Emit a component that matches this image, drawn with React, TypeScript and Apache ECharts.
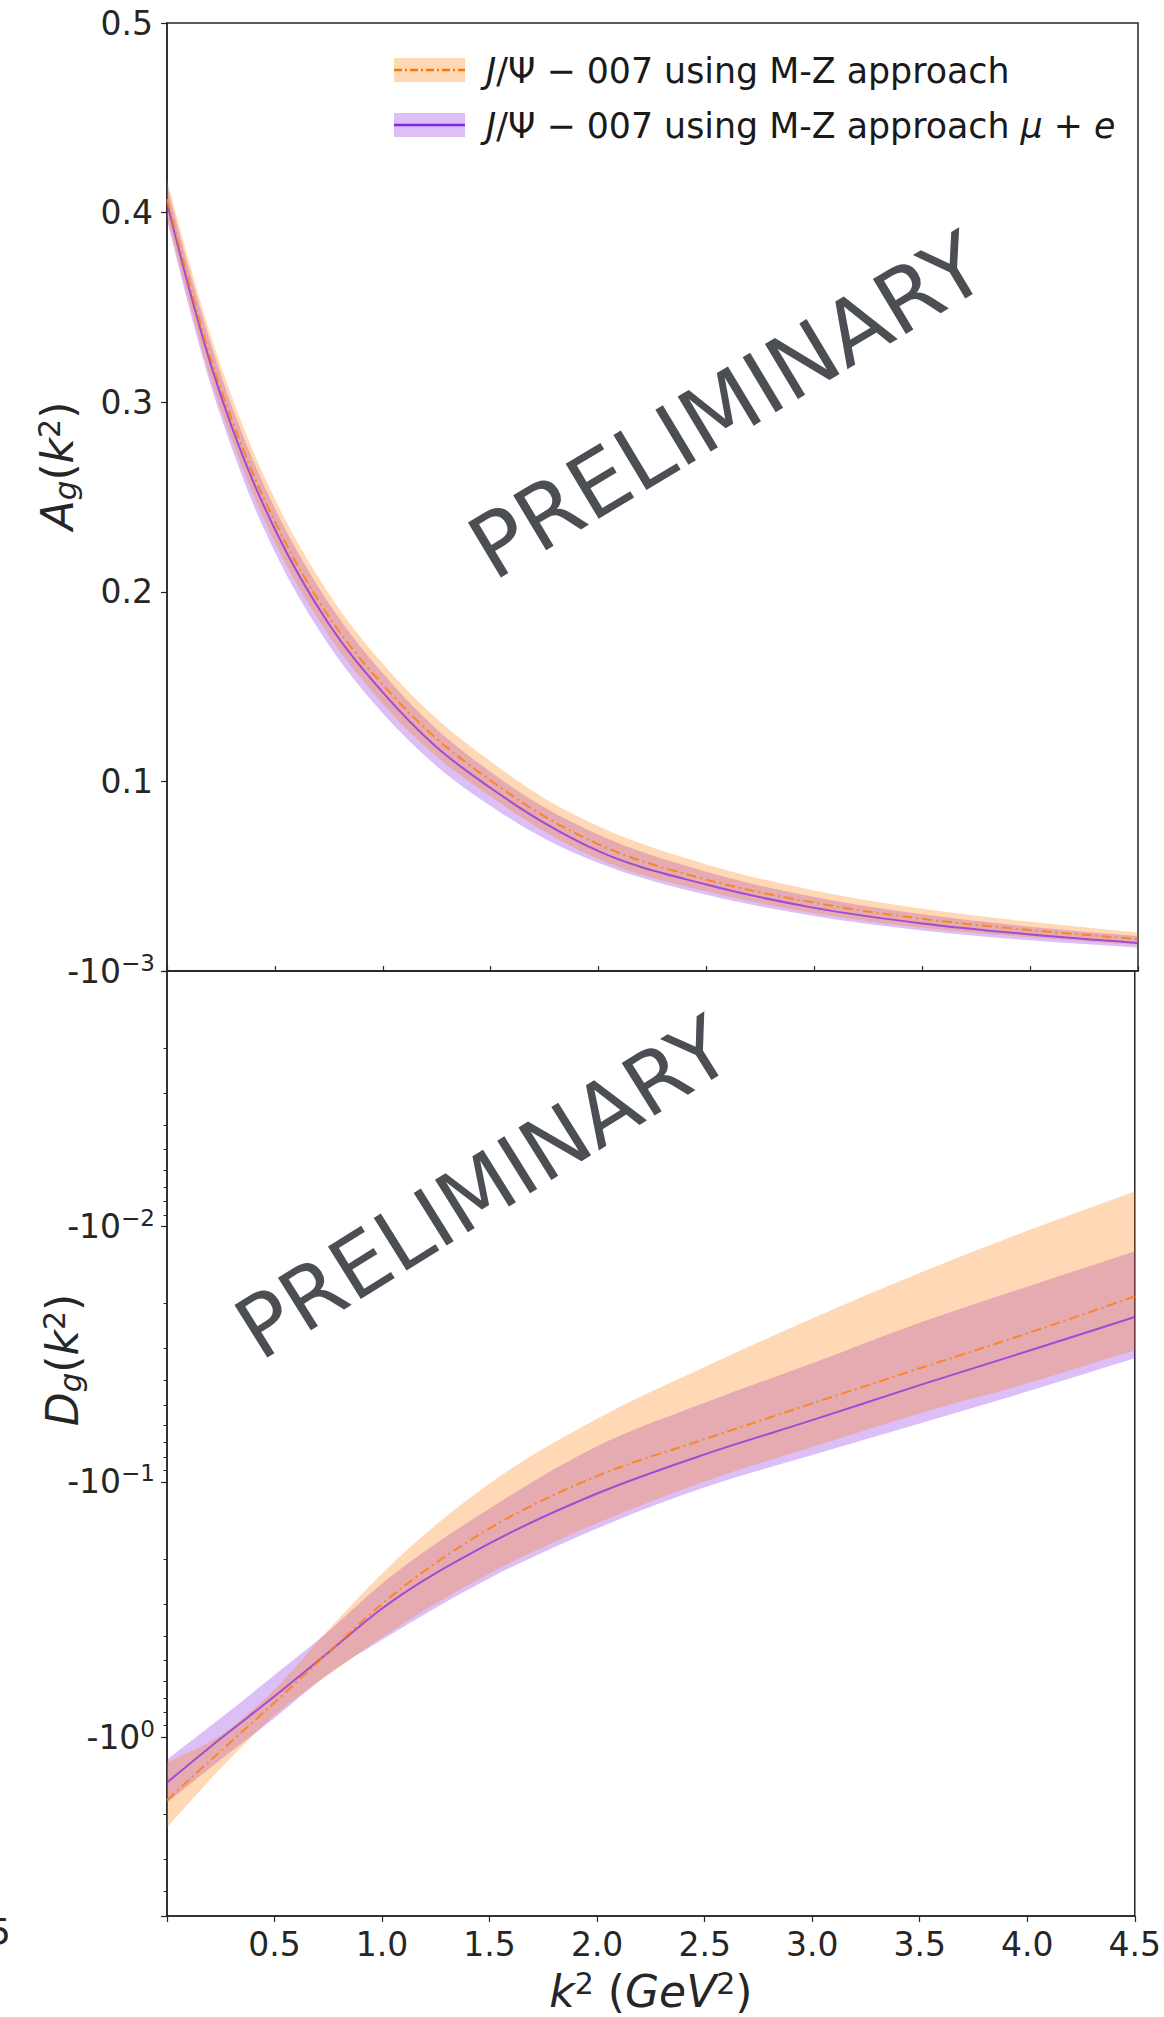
import React, { useEffect, useRef } from 'react';
import * as echarts from 'echarts';

// ---------- data ----------
// Top panel: A_g(k^2)
const kTop = [0, 0.1, 0.2, 0.3, 0.4, 0.5, 0.75, 1.0, 1.25, 1.5, 1.75, 2.0, 2.5, 3.0, 3.5, 4.0, 4.5];
const agOrange = [0.407, 0.364, 0.324, 0.291, 0.262, 0.237, 0.187, 0.151, 0.1225, 0.1005, 0.0815, 0.0668, 0.0482, 0.036, 0.0275, 0.0216, 0.0168];
const agOrangeUp = [0.417, 0.375, 0.336, 0.303, 0.274, 0.249, 0.199, 0.162, 0.133, 0.1105, 0.091, 0.0763, 0.0562, 0.0425, 0.0328, 0.026, 0.0203];
const agOrangeLo = [0.398, 0.354, 0.313, 0.28, 0.251, 0.226, 0.177, 0.141, 0.113, 0.092, 0.0735, 0.059, 0.042, 0.0305, 0.0228, 0.0178, 0.0137];
const agPurple = [0.405, 0.361, 0.321, 0.287, 0.258, 0.233, 0.183, 0.147, 0.118, 0.0965, 0.078, 0.0632, 0.0456, 0.0333, 0.0251, 0.0193, 0.0148];
const agPurpleUp = [0.414, 0.371, 0.332, 0.298, 0.269, 0.244, 0.194, 0.157, 0.1275, 0.105, 0.0862, 0.0719, 0.0524, 0.039, 0.0299, 0.0234, 0.0184];
const agPurpleLo = [0.396, 0.351, 0.31, 0.276, 0.246, 0.221, 0.172, 0.136, 0.108, 0.087, 0.0698, 0.057, 0.0402, 0.029, 0.0214, 0.0162, 0.0123];

// Bottom panel: D_g(k^2) (negative values)
const kBot = [0, 0.25, 0.5, 0.75, 1.0, 1.5, 2.0, 2.5, 3.0, 3.5, 4.0, 4.5];
const dgOrange = [-1.76, -1.13, -0.73, -0.465, -0.3, -0.152, -0.0948, -0.068, -0.0493, -0.0359, -0.0262, -0.0188];
const dgOrangeNear = [-1.25, -0.98, -0.65, -0.38, -0.228, -0.1014, -0.0566, -0.0355, -0.0229, -0.0152, -0.0104, -0.0073];
const dgOrangeFar = [-2.25, -1.32, -0.82, -0.57, -0.405, -0.228, -0.145, -0.0995, -0.0729, -0.0539, -0.0411, -0.0305];
const dgPurple = [-1.5, -1.01, -0.69, -0.465, -0.313, -0.174, -0.111, -0.078, -0.0573, -0.0418, -0.0308, -0.0226];
const dgPurpleNear = [-1.22, -0.84, -0.57, -0.385, -0.25, -0.127, -0.0725, -0.049, -0.0343, -0.0238, -0.0172, -0.0125];
const dgPurpleFar = [-1.8, -1.22, -0.84, -0.565, -0.415, -0.238, -0.152, -0.105, -0.0785, -0.059, -0.0443, -0.0328];

const xTicks = [0.5, 1.0, 1.5, 2.0, 2.5, 3.0, 3.5, 4.0, 4.5];
const legendLabels = [
  '{i|J}/Ψ − 007 using M-Z approach',
  '{i|J}/Ψ − 007 using M-Z approach {i|μ} + {i|e}',
];
const yTitles = ['{i|A}{sub|g}{n|(}{i|k}{sup|2}{n|)}', '{i|D}{sub|g}{n|(}{i|k}{sup|2}{n|)}'];
const xTitle = '{i|k}{sup|2}{n| (}{i|GeV}{sup|2}{n|)}';
const watermark = 'PRELIMINARY';

// ---------- style ----------
const FONT = 'DejaVu Sans';
const TEXT = '#262626';
const AXIS = '#262626';
const ORANGE = '#ff7f0e';
const PURPLE = '#8a2be2';
const ORANGE_BAND = 'rgba(255,127,14,0.3)';
const PURPLE_BAND = 'rgba(138,43,226,0.3)';
const DASHDOT = [10, 4, 2, 4];

const pairs = (xs: number[], ys: number[]) => xs.map((x, i) => [x, ys[i]]);
const absArr = (a: number[]) => a.map((v) => Math.abs(v));

// cubic Hermite path through pixel points (x monotone)
function hermite(pts: number[][], start: 'M' | 'L'): string {
  const n = pts.length;
  const h: number[] = [];
  const d: number[] = [];
  for (let i = 0; i < n - 1; i++) {
    h.push(pts[i + 1][0] - pts[i][0]);
    d.push((pts[i + 1][1] - pts[i][1]) / (pts[i + 1][0] - pts[i][0]));
  }
  const s: number[] = [];
  for (let i = 0; i < n; i++) {
    if (i === 0) s.push(d[0]);
    else if (i === n - 1) s.push(d[n - 2]);
    else s.push((d[i - 1] * h[i] + d[i] * h[i - 1]) / (h[i - 1] + h[i]));
  }
  let out = `${start} ${pts[0][0]} ${pts[0][1]}`;
  for (let i = 0; i < n - 1; i++) {
    const hh = h[i];
    const c1x = pts[i][0] + hh / 3;
    const c1y = pts[i][1] + (s[i] * hh) / 3;
    const c2x = pts[i + 1][0] - hh / 3;
    const c2y = pts[i + 1][1] - (s[i + 1] * hh) / 3;
    out += ` C ${c1x} ${c1y} ${c2x} ${c2y} ${pts[i + 1][0]} ${pts[i + 1][1]}`;
  }
  return out;
}

function bandSeries(name: string, xs: number[], lo: number[], hi: number[], color: string, xAxisIndex: number, yAxisIndex: number) {
  return {
    name, type: 'custom', coordinateSystem: 'cartesian2d', xAxisIndex, yAxisIndex, silent: true,
    data: xs.map((x, i) => [x, lo[i], hi[i]]),
    encode: { x: 0, y: [1, 2] },
    renderItem: (params: any, api: any) => {
      if (params.dataIndex !== 0) return null;
      const up = xs.map((x, i) => api.coord([x, hi[i]]));
      const dn = xs.map((x, i) => api.coord([x, lo[i]])).reverse();
      const pathData = hermite(up, 'M') + ' ' + hermite(dn, 'L') + ' Z';
      return { type: 'path', shape: { pathData }, style: { fill: color, stroke: 'none' } };
    },
  };
}

function lineSeries(name: string, xs: number[], ys: number[], color: string, dash: number[] | null, opacity: number, xAxisIndex: number, yAxisIndex: number) {
  return {
    name, type: 'custom', coordinateSystem: 'cartesian2d', xAxisIndex, yAxisIndex, silent: true,
    data: pairs(xs, ys),
    encode: { x: 0, y: 1 },
    renderItem: (params: any, api: any) => {
      if (params.dataIndex !== 0) return null;
      const pts = xs.map((x, i) => api.coord([x, ys[i]]));
      return {
        type: 'path', shape: { pathData: hermite(pts, 'M') },
        style: { fill: 'none', stroke: color, lineWidth: 2, opacity, lineDash: dash || undefined },
      };
    },
  };
}

const titleRich = {
  i: { fontFamily: FONT, fontStyle: 'italic', fontSize: 44, color: TEXT, lineHeight: 46 },
  n: { fontFamily: FONT, fontSize: 44, color: TEXT, lineHeight: 46 },
  sub: { fontFamily: FONT, fontStyle: 'italic', fontSize: 31, color: TEXT, lineHeight: 30, verticalAlign: 'bottom' },
  sup: { fontFamily: FONT, fontSize: 30, color: TEXT, lineHeight: 20, verticalAlign: 'top' },
};
const titleRichFill = {
  i: { fontFamily: FONT, fontStyle: 'italic', fontSize: 44, fill: TEXT, lineHeight: 46 },
  n: { fontFamily: FONT, fontSize: 44, fill: TEXT, lineHeight: 46 },
  sub: { fontFamily: FONT, fontStyle: 'italic', fontSize: 31, fill: TEXT, lineHeight: 30, verticalAlign: 'bottom' },
  sup: { fontFamily: FONT, fontSize: 30, fill: TEXT, lineHeight: 20, verticalAlign: 'top' },
};

const minorTicks: number[] = [];
for (let e = -3; e <= 0; e++) {
  for (let m = 2; m <= 9; m++) {
    const v = e + Math.log10(m);
    if (v <= Math.log10(5)) minorTicks.push(v);
  }
}

export default function App() {
  const ref = useRef<HTMLDivElement>(null);
  useEffect(() => {
    document.body.style.margin = '0';
    const chart = echarts.init(ref.current!, null, { renderer: 'svg' });

    const gridLeft = 167;
    const gridWidth = 971;

    const option: any = {
      animation: false,
      backgroundColor: '#ffffff',
      textStyle: { fontFamily: FONT },
      grid: [
        { left: gridLeft, top: 23, width: gridWidth, height: 948, show: true, borderColor: AXIS, borderWidth: 1.5, backgroundColor: 'transparent' },
        { left: gridLeft, top: 971, width: gridWidth, height: 945, show: true, borderColor: AXIS, borderWidth: 1.5, backgroundColor: 'transparent' },
      ],
      xAxis: [
        {
          type: 'value', gridIndex: 0, min: 0, max: 4.5, interval: 0.5,
          axisLine: { show: true, onZero: false, lineStyle: { color: AXIS, width: 1.5 } },
          axisTick: { show: true, inside: true, length: 5, lineStyle: { color: AXIS, width: 1.2 } },
          axisLabel: { show: false },
          splitLine: { show: false },
        },
        {
          type: 'value', gridIndex: 1, min: 0, max: 4.5, interval: 0.5,
          axisLine: { show: true, onZero: false, lineStyle: { color: AXIS, width: 1.5 } },
          axisTick: { show: true, length: 6, lineStyle: { color: AXIS, width: 1.2 } },
          axisLabel: {
            show: true, fontFamily: FONT, fontSize: 33, color: TEXT, margin: 12,
            formatter: (v: number) => (xTicks.indexOf(v) >= 0 ? v.toFixed(1) : ''),
          },
          splitLine: { show: false },
          name: xTitle,
          nameLocation: 'middle', nameGap: 52,
          nameTextStyle: { rich: titleRich },
        },
      ],
      yAxis: [
        {
          type: 'value', gridIndex: 0, min: 0, max: 0.5, interval: 0.1,
          axisLine: { show: true, onZero: false, lineStyle: { color: AXIS, width: 1.5 } },
          axisTick: { show: true, length: 6, lineStyle: { color: AXIS, width: 1.2 } },
          axisLabel: {
            fontFamily: FONT, fontSize: 33, color: TEXT, margin: 14,
            formatter: (v: number) => (v === 0 ? '' : v.toFixed(1)),
          },
          splitLine: { show: false },
        },
        {
          type: 'log', logBase: 10, gridIndex: 1, min: 0.001, max: 5, inverse: true,
          axisLine: { show: true, onZero: false, lineStyle: { color: AXIS, width: 1.5 } },
          axisTick: { show: true, length: 6, lineStyle: { color: AXIS, width: 1.2 } },
          axisLabel: {
            fontFamily: FONT, fontSize: 33, color: TEXT, margin: 12,
            formatter: (v: number) => {
              const e = Math.log10(v);
              const r = Math.round(e);
              if (Math.abs(e - r) > 1e-6) return '';
              const s = r < 0 ? '−' + String(-r) : String(r);
              return '{n|-10}{sup|' + s + '}';
            },
            rich: {
              n: { fontFamily: FONT, fontSize: 33, color: TEXT, lineHeight: 40 },
              sup: { fontFamily: FONT, fontSize: 23, color: TEXT, lineHeight: 20, verticalAlign: 'top' },
            },
          },
          splitLine: { show: false },
          minorSplitLine: { show: false },
        },
        {
          type: 'value', gridIndex: 1, min: -3, max: Math.log10(5), inverse: true, position: 'left',
          axisLine: { show: false, onZero: false },
          axisLabel: { show: false },
          splitLine: { show: false },
          axisTick: { show: true, length: 3.5, lineStyle: { color: AXIS, width: 1 }, customValues: minorTicks },
        },
      ],
      series: [
        bandSeries('pTopBand', kTop, agPurpleLo, agPurpleUp, PURPLE_BAND, 0, 0),
        bandSeries('oTopBand', kTop, agOrangeLo, agOrangeUp, ORANGE_BAND, 0, 0),
        lineSeries('purpleTop', kTop, agPurple, PURPLE, null, 0.75, 0, 0),
        lineSeries('orangeTop', kTop, agOrange, ORANGE, DASHDOT, 0.85, 0, 0),
        bandSeries('pBotBand', kBot, absArr(dgPurpleNear), absArr(dgPurpleFar), PURPLE_BAND, 1, 1),
        bandSeries('oBotBand', kBot, absArr(dgOrangeNear), absArr(dgOrangeFar), ORANGE_BAND, 1, 1),
        lineSeries('purpleBot', kBot, absArr(dgPurple), PURPLE, null, 0.75, 1, 1),
        lineSeries('orangeBot', kBot, absArr(dgOrange), ORANGE, DASHDOT, 0.85, 1, 1),
      ],
      graphic: [
        // y axis titles
        {
          type: 'text', x: 57, y: 466, rotation: Math.PI / 2, z: 40,
          style: { text: yTitles[0], fontFamily: FONT, fontSize: 44, fill: TEXT, align: 'center', verticalAlign: 'middle', rich: titleRichFill },
        },
        {
          type: 'text', x: 62, y: 1360, rotation: Math.PI / 2, z: 40,
          style: { text: yTitles[1], fontFamily: FONT, fontSize: 44, fill: TEXT, align: 'center', verticalAlign: 'middle', rich: titleRichFill },
        },
        // legend
        { type: 'rect', shape: { x: 394, y: 58, width: 71, height: 24 }, style: { fill: ORANGE_BAND }, z: 50 },
        { type: 'line', shape: { x1: 394, y1: 70, x2: 465, y2: 70 }, style: { stroke: '#f57a00', lineWidth: 2.5, lineDash: [8, 3, 2, 3] }, z: 51 },
        { type: 'rect', shape: { x: 394, y: 113, width: 71, height: 24 }, style: { fill: PURPLE_BAND }, z: 50 },
        { type: 'line', shape: { x1: 394, y1: 125, x2: 465, y2: 125 }, style: { stroke: '#7a2ae0', lineWidth: 2.5 }, z: 51 },
        {
          type: 'text', x: 486, y: 71, z: 52,
          style: {
            text: legendLabels[0], fontFamily: FONT, fontSize: 34.8, fill: '#1a1a1a', verticalAlign: 'middle', align: 'left',
            rich: { i: { fontFamily: FONT, fontStyle: 'italic', fontSize: 34.8, fill: '#1a1a1a' } },
          },
        },
        {
          type: 'text', x: 486, y: 126, z: 52,
          style: {
            text: legendLabels[1], fontFamily: FONT, fontSize: 34.8, fill: '#1a1a1a', verticalAlign: 'middle', align: 'left',
            rich: { i: { fontFamily: FONT, fontStyle: 'italic', fontSize: 34.8, fill: '#1a1a1a' } },
          },
        },
        // watermarks
        {
          type: 'text', x: 727, y: 406, rotation: (31 * Math.PI) / 180, z: 60,
          style: { text: watermark, fontFamily: FONT, fontSize: 88, fill: '#4b4e53', align: 'center', verticalAlign: 'middle' },
        },
        {
          type: 'text', x: 483, y: 1188, rotation: (32 * Math.PI) / 180, z: 60,
          style: { text: watermark, fontFamily: FONT, fontSize: 85, fill: '#4b4e53', align: 'center', verticalAlign: 'middle' },
        },
        // stray cropped glyph at left edge
        {
          type: 'text', x: 11, y: 1931, z: 60,
          style: { text: '5', fontFamily: FONT, fontSize: 36, fill: TEXT, align: 'right', verticalAlign: 'middle' },
        },
      ],
    };

    chart.setOption(option);
    return () => chart.dispose();
  }, []);

  return (
    <div
      ref={ref}
      style={{ position: 'absolute', left: 0, top: 0, width: 1164, height: 2017, background: '#ffffff' }}
    />
  );
}
